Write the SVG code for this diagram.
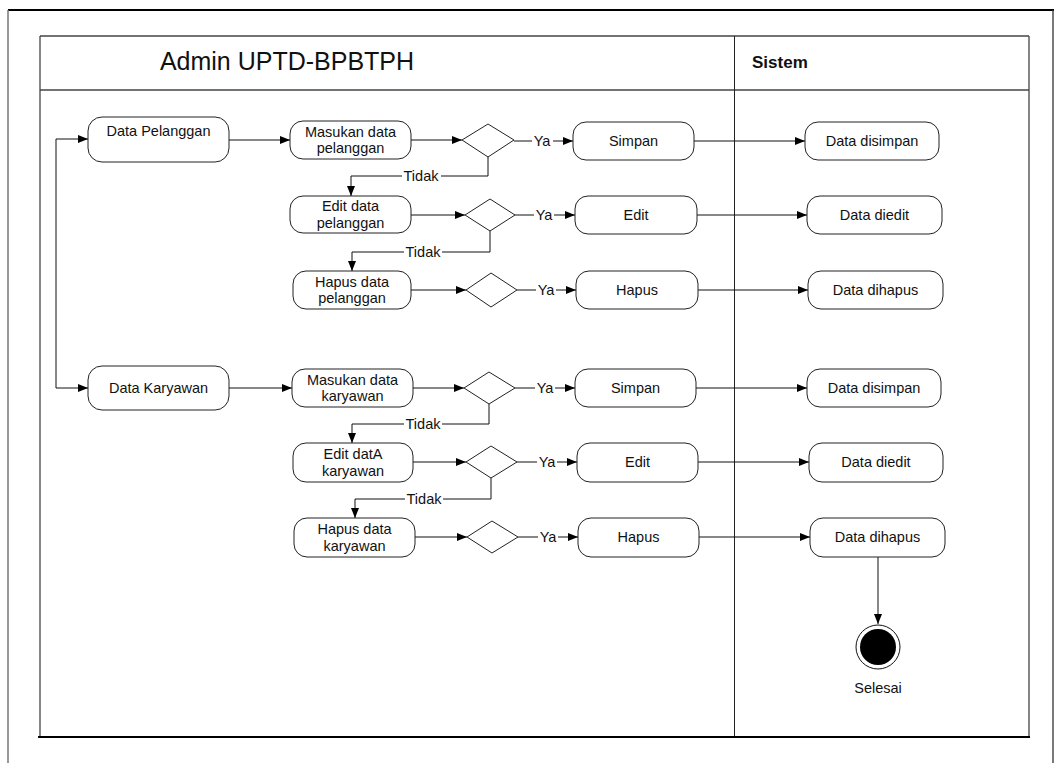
<svg xmlns="http://www.w3.org/2000/svg" width="1055" height="763" viewBox="0 0 1055 763">
  <style>
    text { font-family: "Liberation Sans", Arial, sans-serif; font-size: 14.5px; fill: #111; text-anchor: middle; }
    .act { fill: #fff; stroke: #222; stroke-width: 1; }
    .dec { fill: #fff; stroke: #222; stroke-width: 1; }
    .flow { fill: none; stroke: #111; stroke-width: 1; }
    .arrow { marker-end: url(#head); }
    .lane { fill: none; stroke: #444; stroke-width: 1.3; }
    .lbl { font-size: 14.5px; }
  </style>
  <defs>
    <marker id="head" markerUnits="userSpaceOnUse" markerWidth="11" markerHeight="9" refX="10" refY="4" orient="auto">
      <path d="M0,0 L10,4 L0,8 z" fill="#000"/>
    </marker>
  </defs>

  <rect width="1055" height="763" fill="#fff"/>

  <!-- page frame -->
  <g id="frame">
    <line x1="8" y1="10" x2="1054" y2="10" stroke="#000" stroke-width="2"/>
    <line x1="8" y1="10" x2="8" y2="763" stroke="#777" stroke-width="1.5"/>
    <line x1="1053" y1="10" x2="1053" y2="763" stroke="#333" stroke-width="1.3"/>
  </g>

  <!-- swimlanes -->
  <g id="swimlanes">
    <line class="lane" x1="40" y1="36" x2="1029" y2="36"/>
    <line class="lane" x1="40" y1="90" x2="1029" y2="90"/>
    <line class="lane" x1="40" y1="36" x2="40" y2="737" stroke="#666"/>
    <line class="lane" x1="1029" y1="36" x2="1029" y2="737"/>
    <line x1="734.5" y1="36" x2="734.5" y2="737" stroke="#222" stroke-width="1"/>
    <line x1="38" y1="737" x2="1030" y2="737" stroke="#000" stroke-width="2"/>
    <text x="287" y="70" style="font-size:25px">Admin UPTD-BPBTPH</text>
    <text x="752" y="68" style="font-size:17px;font-weight:bold;text-anchor:start">Sistem</text>
  </g>

  <!-- connectors -->
  <g id="connectors">
    <path class="flow arrow" d="M56,139 H88"/>
    <path class="flow arrow" d="M56,139 V388 H88"/>

    <!-- pelanggan -->
    <path class="flow arrow" d="M229,140 H290"/>
    <path class="flow arrow" d="M411,140 H462"/>
    <path class="flow arrow" d="M514,141 H532 M553,141 H573"/>
    <path class="flow arrow" d="M694,141 H805"/>
    <path class="flow arrow" d="M488,157 V176 H441 M402,176 H351 V196"/>

    <path class="flow arrow" d="M411,215 H465"/>
    <path class="flow arrow" d="M515,215 H534 M554,215 H575"/>
    <path class="flow arrow" d="M697,215 H807"/>
    <path class="flow arrow" d="M490,231 V252 H442 M404,252 H352 V271"/>

    <path class="flow arrow" d="M411,290 H466"/>
    <path class="flow arrow" d="M517,290 H536 M556,290 H576"/>
    <path class="flow arrow" d="M698,290 H808"/>

    <!-- karyawan -->
    <path class="flow arrow" d="M229,388 H292"/>
    <path class="flow arrow" d="M413,388 H464"/>
    <path class="flow arrow" d="M515,388 H535 M555,388 H575"/>
    <path class="flow arrow" d="M696,388 H807"/>
    <path class="flow arrow" d="M489,404 V424 H442 M404,424 H352 V443"/>

    <path class="flow arrow" d="M413,462 H466"/>
    <path class="flow arrow" d="M517,462 H537 M557,462 H577"/>
    <path class="flow arrow" d="M698,462 H809"/>
    <path class="flow arrow" d="M491,478 V499 H443 M405,499 H355 V518"/>

    <path class="flow arrow" d="M415,537 H467"/>
    <path class="flow arrow" d="M518,537 H538 M558,537 H578"/>
    <path class="flow arrow" d="M699,537 H810"/>
    <path class="flow arrow" d="M878,557 V624"/>

    <!-- guard labels -->
    <text x="542" y="146">Ya</text>
    <text x="544" y="220">Ya</text>
    <text x="546" y="295">Ya</text>
    <text x="545" y="393">Ya</text>
    <text x="547" y="467">Ya</text>
    <text x="548" y="542">Ya</text>
    <text x="421" y="181">Tidak</text>
    <text x="423" y="257">Tidak</text>
    <text x="423" y="429">Tidak</text>
    <text x="424" y="504">Tidak</text>
  </g>

  <!-- activities: pelanggan -->
  <g id="data-pelanggan">
    <rect class="act" x="88" y="117" width="141" height="45" rx="14"/>
    <text x="158.5" y="136">Data Pelanggan</text>
  </g>
  <g id="masukan-pelanggan">
    <rect class="act" x="290" y="121" width="121" height="38" rx="13"/>
    <text x="350.5" y="137">Masukan data</text>
    <text x="350.5" y="153">pelanggan</text>
  </g>
  <g id="dec-masukan-pelanggan">
    <polygon class="dec" points="462,140 488,124 514,140 488,157"/>
  </g>
  <g id="simpan-pelanggan">
    <rect class="act" x="573" y="122" width="121" height="38" rx="13"/>
    <text x="633.5" y="146">Simpan</text>
  </g>
  <g id="disimpan-pelanggan">
    <rect class="act" x="805" y="122" width="134" height="38" rx="13"/>
    <text x="872" y="146">Data disimpan</text>
  </g>

  <g id="edit-pelanggan">
    <rect class="act" x="290" y="196" width="121" height="37" rx="13"/>
    <text x="350.5" y="211">Edit data</text>
    <text x="350.5" y="228">pelanggan</text>
  </g>
  <g id="dec-edit-pelanggan">
    <polygon class="dec" points="465,215 490,199 515,215 490,231"/>
  </g>
  <g id="edit-action-pelanggan">
    <rect class="act" x="575" y="196" width="122" height="38" rx="13"/>
    <text x="636" y="220">Edit</text>
  </g>
  <g id="diedit-pelanggan">
    <rect class="act" x="807" y="196" width="135" height="38" rx="13"/>
    <text x="874.5" y="220">Data diedit</text>
  </g>

  <g id="hapus-pelanggan">
    <rect class="act" x="293" y="271" width="118" height="38" rx="13"/>
    <text x="352" y="287">Hapus data</text>
    <text x="352" y="303">pelanggan</text>
  </g>
  <g id="dec-hapus-pelanggan">
    <polygon class="dec" points="466,290 491,273 517,290 491,307"/>
  </g>
  <g id="hapus-action-pelanggan">
    <rect class="act" x="576" y="271" width="122" height="38" rx="13"/>
    <text x="637" y="295">Hapus</text>
  </g>
  <g id="dihapus-pelanggan">
    <rect class="act" x="808" y="271" width="135" height="38" rx="13"/>
    <text x="875.5" y="295">Data dihapus</text>
  </g>

  <!-- activities: karyawan -->
  <g id="data-karyawan">
    <rect class="act" x="88" y="366" width="141" height="44" rx="14"/>
    <text x="158.5" y="393">Data Karyawan</text>
  </g>
  <g id="masukan-karyawan">
    <rect class="act" x="292" y="369" width="121" height="38" rx="13"/>
    <text x="352.5" y="385">Masukan data</text>
    <text x="352.5" y="401">karyawan</text>
  </g>
  <g id="dec-masukan-karyawan">
    <polygon class="dec" points="464,388 489,372 515,388 489,404"/>
  </g>
  <g id="simpan-karyawan">
    <rect class="act" x="575" y="369" width="121" height="38" rx="13"/>
    <text x="635.5" y="393">Simpan</text>
  </g>
  <g id="disimpan-karyawan">
    <rect class="act" x="807" y="369" width="134" height="38" rx="13"/>
    <text x="874" y="393">Data disimpan</text>
  </g>

  <g id="edit-karyawan">
    <rect class="act" x="293" y="443" width="120" height="39" rx="13"/>
    <text x="353" y="459">Edit datA</text>
    <text x="353" y="476">karyawan</text>
  </g>
  <g id="dec-edit-karyawan">
    <polygon class="dec" points="466,462 491,446 517,462 491,478"/>
  </g>
  <g id="edit-action-karyawan">
    <rect class="act" x="577" y="443" width="121" height="39" rx="13"/>
    <text x="637.5" y="467">Edit</text>
  </g>
  <g id="diedit-karyawan">
    <rect class="act" x="809" y="443" width="134" height="39" rx="13"/>
    <text x="876" y="467">Data diedit</text>
  </g>

  <g id="hapus-karyawan">
    <rect class="act" x="294" y="518" width="121" height="39" rx="13"/>
    <text x="354.5" y="534">Hapus data</text>
    <text x="354.5" y="551">karyawan</text>
  </g>
  <g id="dec-hapus-karyawan">
    <polygon class="dec" points="467,537 492,521 518,537 492,553"/>
  </g>
  <g id="hapus-action-karyawan">
    <rect class="act" x="578" y="518" width="121" height="39" rx="13"/>
    <text x="638.5" y="542">Hapus</text>
  </g>
  <g id="dihapus-karyawan">
    <rect class="act" x="810" y="518" width="135" height="39" rx="13"/>
    <text x="877.5" y="542">Data dihapus</text>
  </g>

  <!-- final node -->
  <g id="selesai">
    <circle cx="878" cy="647" r="22" fill="#fff" stroke="#111" stroke-width="1"/>
    <circle cx="878" cy="647" r="18" fill="#000"/>
    <text x="878" y="693">Selesai</text>
  </g>
</svg>
